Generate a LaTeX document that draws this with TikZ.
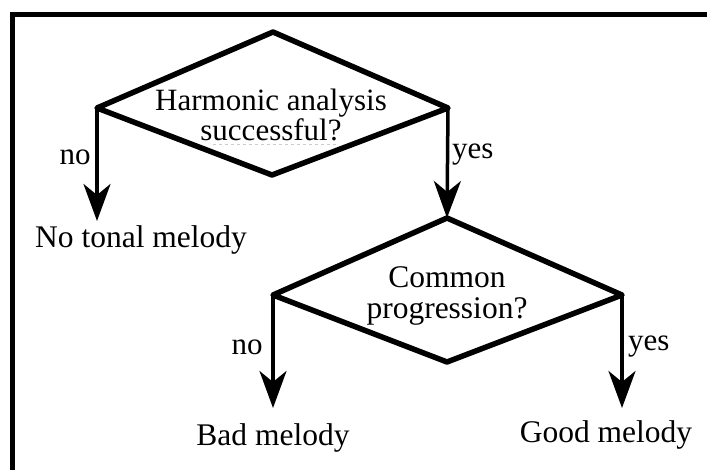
\documentclass[tikz,border=0pt]{standalone}
\usepackage{fontspec}
\setmainfont{Liberation Serif}
\usetikzlibrary{arrows.meta}
\begin{document}
\begin{tikzpicture}[x=1pt,y=-1pt,
  frame/.style={line width=5pt, line cap=rect},
  decision/.style={line width=5.5pt, line join=round},
  flow/.style={line width=3.5pt, -{Stealth[length=37pt,width=27pt,inset=11pt]}},
  txt/.style={font=\fontsize{31.5}{27}\selectfont, inner sep=0pt, align=center},
  lbl/.style={font=\fontsize{31}{31}\selectfont, inner sep=0pt}]
\useasboundingbox (0,0) rectangle (707,470);
% frame (only top and left edges are visible)
\coordinate (fa) at (12,472);
\coordinate (fb) at (12,15);
\coordinate (fc) at (710,15);
\draw[frame] (fa) -- (fb) -- (fc);
% decision 1
\coordinate (d1l) at (97,108);
\coordinate (d1t) at (273,32);
\coordinate (d1r) at (448,108);
\coordinate (d1b) at (272,175);
\draw[decision] (d1l) -- (d1t) -- (d1r) -- (d1b) -- cycle;
\node[txt, font=\fontsize{31}{26.5}\selectfont] (q1) at (271,115) {Harmonic analysis\\successful?};
\draw[gray!40, dashed, line width=1pt] (213,145) -- (337,145);
% decision 2
\coordinate (d2l) at (273,295);
\coordinate (d2t) at (447,218);
\coordinate (d2r) at (622,295);
\coordinate (d2b) at (447,362);
\draw[decision] (d2l) -- (d2t) -- (d2r) -- (d2b) -- cycle;
\node[txt, font=\fontsize{31.5}{31}\selectfont] (q2) at (447,296) {Common\\progression?};
% outcomes
\node[txt, anchor=base] (o1) at (141,248) {No tonal melody};
\node[txt, anchor=base] (o2) at (273,445) {Bad melody};
\node[txt, anchor=base] (o3) at (606,442) {Good melody};
\coordinate (t1) at (97,221);
\coordinate (t2) at (273,408);
\coordinate (t3) at (622,408);
% connectors
\draw[flow] (d1l) -- (t1);
\draw[flow] (d1r) -- (d2t);
\draw[flow] (d2l) -- (t2);
\draw[flow] (d2r) -- (t3);
% labels
\node[lbl] (n1) at (75,157) {no};
\node[lbl, anchor=west] (y1) at (452,155) {yes};
\node[lbl] (n2) at (247,347) {no};
\node[lbl, anchor=west] (y2) at (628,347) {yes};
\end{tikzpicture}
\end{document}
